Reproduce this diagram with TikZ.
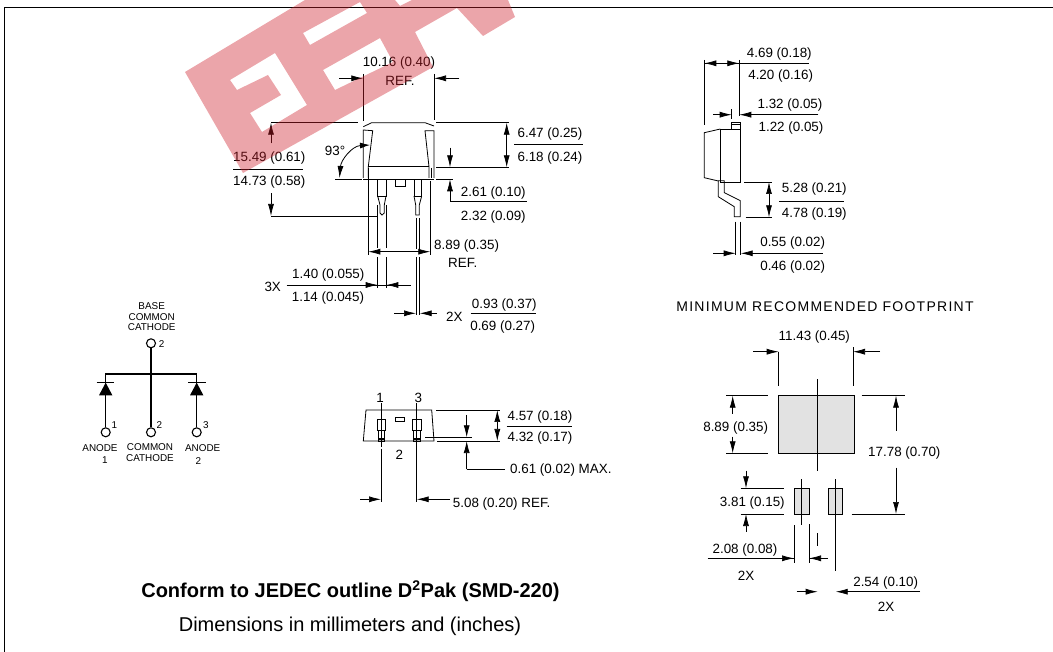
\documentclass[tikz,border=0pt]{standalone}
\usepackage{fontspec}
\setmainfont{Liberation Sans}
\usetikzlibrary{arrows.meta}
\definecolor{logored}{RGB}{205,30,42}
\definecolor{padgray}{RGB}{226,226,226}
\tikzset{
  lab/.style={inner sep=0pt, yshift=-1pt, font=\fontsize{13.4}{15}\selectfont},
  pinlab/.style={inner sep=0pt, font=\fontsize{9.9}{11}\selectfont},
  part/.style={line width=0.8pt},
  ext/.style={line width=0.7pt},
  dim/.style={line width=0.7pt, -{Latex[length=12pt,width=6pt]}},
  dimboth/.style={line width=0.7pt, {Latex[length=12pt,width=6pt]}-{Latex[length=12pt,width=6pt]}},
  term/.style={circle, draw, line width=1.1pt, minimum size=9pt, inner sep=0pt},
}
\begin{document}
\begin{tikzpicture}[x=1pt,y=-1pt]
\useasboundingbox (0,0) rectangle (1053,652);
% frame
\draw[line width=0.9pt] (4.7,652) -- (4.7,7) -- (1053,7);
% front view, body
\draw[part] (363.3,126.7) -- (371.7,122.7) -- (425,122.7) -- (434,126);
\draw[part] (363.3,178) -- (363.3,130) -- (372.7,130.7) -- (368.3,166.7) -- (368.3,178);
\draw[part] (434,178) -- (434,130.7) -- (425,130.7) -- (429,166.7) -- (429,178);
\draw[part] (368.3,166.7) -- (429,166.7);
\draw[part] (363.3,179.3) -- (434,179.3);
\draw[part] (395,179.3) -- (395,186) -- (405,186) -- (405,179.3);
% front view, leads
\draw[part] (377.7,179.3) -- (377.7,196) -- (386,196) -- (386,179.3);
\draw[part] (377.7,196) -- (380,205) -- (380,213) -- (382,215) -- (384.3,213) -- (384.3,205) -- (386,196);
\draw[part] (414,179.3) -- (414,196) -- (421.7,196) -- (421.7,179.3);
\draw[part] (414,196) -- (415.7,205) -- (415.7,215) -- (419.3,215) -- (419.3,205) -- (421.7,196);
% front view, dimensions
\draw[ext] (363.3,74) -- (363.3,120.7);
\draw[ext] (434,74) -- (434,120);
\draw[dim] (339.3,78.3) -- (363.3,78.3);
\draw[dim] (459.3,78.3) -- (434,78.3);
\node[lab] (lab0) at (399,61.7) {10.16 (0.40)};
\node[lab] (lab1) at (400,80) {REF.};
\draw[ext] (271,122.7) -- (358,122.7);
\draw[dim] (271,143.3) -- (271,122.7);
\draw[dim] (271,193.3) -- (271,216);
\draw[ext] (271,216) -- (377.3,216);
\node[lab] (lab2) at (269.3,157.3) {15.49 (0.61)};
\draw[ext] (233.3,169) -- (303.3,169);
\node[lab] (lab3) at (269.3,181) {14.73 (0.58)};
\node[lab] (lab4) at (335,150) {93°};
\draw[line width=0.8pt, {Latex[length=10pt,width=6pt]}-{Latex[length=12pt,width=6pt]}] (370,145) .. controls (352,146) and (341,160) .. (339.5,178);
\draw[ext] (335,179.3) -- (361.7,179.3);
\draw[ext] (436,122.7) -- (509.3,122.7);
\draw[ext] (436,167.3) -- (509.3,167.3);
\draw[dimboth] (506.7,122.7) -- (506.7,167.3);
\node[lab] (lab5) at (550,132.7) {6.47 (0.25)};
\draw[ext] (514,144.7) -- (582.7,144.7);
\node[lab] (lab6) at (550,157.3) {6.18 (0.24)};
\draw[ext] (436,179.3) -- (453,179.3);
\draw[dim] (450,147.7) -- (450,167.3);
\draw[dim] (450,201.7) -- (450,179.3);
\draw[ext] (450,201.7) -- (527.3,201.7);
\node[lab] (lab7) at (493.3,192.3) {2.61 (0.10)};
\node[lab] (lab8) at (493.3,215.7) {2.32 (0.09)};
\draw[ext] (368.3,168) -- (368.3,255);
\draw[line width=1pt] (431,168) -- (431,178);
\draw[ext] (430.3,181) -- (430.3,255);
\draw[ext] (377.7,205) -- (377.7,248);
\draw[ext] (377.7,257) -- (377.7,288);
\draw[ext] (386.3,205) -- (386.3,248);
\draw[ext] (386.3,257) -- (386.3,288);
\draw[ext] (416,218) -- (416,249);
\draw[ext] (416,257) -- (416,315);
\draw[ext] (419.7,218) -- (419.7,249);
\draw[ext] (419.7,257) -- (419.7,315);
\draw[dimboth] (368.3,251.7) -- (430.3,251.7);
\node[lab, anchor=west] (lab9) at (434,245) {8.89 (0.35)};
\node[lab] (lab10) at (462.7,261.7) {REF.};
\draw[ext] (286.7,285) -- (410.7,285);
\draw[dim] (366,285) -- (377.7,285);
\draw[dim] (398,285) -- (386.3,285);
\node[lab] (lab11) at (272.7,286) {3X};
\node[lab] (lab12) at (328.3,274) {1.40 (0.055)};
\node[lab] (lab13) at (328,297.3) {1.14 (0.045)};
\draw[dim] (394,313.3) -- (416,313.3);
\draw[dim] (436.7,313.3) -- (419.7,313.3);
\node[lab] (lab14) at (454.3,316) {2X};
\draw[ext] (470.7,313.3) -- (535.7,313.3);
\node[lab] (lab15) at (504.3,304) {0.93 (0.37)};
\node[lab] (lab16) at (502.7,326) {0.69 (0.27)};
% side view
\draw[part] (731.7,129) -- (731.7,122.7) -- (740,122.7) -- (740,129);
\draw[part] (731.7,124.5) -- (740,124.5);
\draw[part] (720.3,129) rectangle (740,182);
\draw[part] (720.3,129) -- (704.3,132.7) -- (704.3,177.7) -- (718.3,181);
\draw[part] (718.3,180.7) -- (718.3,196.7) -- (734.3,206.7) -- (734.3,216.7) -- (740.3,216.7) -- (740.3,200.7) -- (724.3,192.7) -- (724.3,180.7) -- cycle;
\draw[ext] (704.3,60) -- (704.3,125);
\draw[ext] (739.3,60) -- (739.3,116);
\draw[ext] (704.3,63.3) -- (809.3,63.3);
\draw[dim] (716,63.3) -- (704.3,63.3);
\draw[dim] (728,63.3) -- (739.3,63.3);
\node[lab] (lab17) at (779.3,53.3) {4.69 (0.18)};
\node[lab] (lab18) at (780.7,75) {4.20 (0.16)};
\draw[ext] (731.7,109.3) -- (731.7,119.3);
\draw[dim] (713.3,114.7) -- (731.7,114.7);
\draw[dim] (818.3,114.7) -- (739.3,114.7);
\node[lab] (lab19) at (790,104.3) {1.32 (0.05)};
\node[lab] (lab20) at (791,126.7) {1.22 (0.05)};
\draw[ext] (744,182) -- (771.7,182);
\draw[ext] (745.7,217.3) -- (771.7,217.3);
\draw[dimboth] (769,182) -- (769,217.3);
\node[lab] (lab21) at (814.3,188.3) {5.28 (0.21)};
\draw[ext] (779,201) -- (844,201);
\node[lab] (lab22) at (814.3,213.3) {4.78 (0.19)};
\draw[ext] (735,221.7) -- (735,255);
\draw[ext] (740.3,221.7) -- (740.3,255);
\draw[dim] (713.3,253.3) -- (735.7,253.3);
\draw[dim] (822.7,253.3) -- (740.7,253.3);
\node[lab] (lab23) at (792.7,242.3) {0.55 (0.02)};
\node[lab] (lab24) at (792.7,265.7) {0.46 (0.02)};
% footprint
\node[inner sep=0pt, font=\fontsize{14}{16}\selectfont\addfontfeature{LetterSpace=9}] (lab25) at (825,307) {MINIMUM RECOMMENDED FOOTPRINT};
\draw[part, fill=padgray] (778.7,395.7) rectangle (854.3,453.3);
\draw[part, fill=padgray] (794,488.3) rectangle (809,514.3);
\draw[part, fill=padgray] (828.7,488.3) rectangle (842.7,514.3);
\draw[ext] (817.7,379.3) -- (817.7,470.7);
\draw[ext] (817.7,533.3) -- (817.7,546);
\draw[ext] (801.7,479) -- (801.7,525);
\draw[ext] (835.7,479) -- (835.7,570.7);
\node[lab] (lab26) at (814.3,335.7) {11.43 (0.45)};
\draw[ext] (778.7,351.7) -- (778.7,385.7);
\draw[ext] (853,347.3) -- (853,385.7);
\draw[dim] (753.3,351.7) -- (778.7,351.7);
\draw[dim] (880,351.7) -- (853,351.7);
\draw[ext] (726,395.7) -- (767.7,395.7);
\draw[ext] (726,453.3) -- (767.7,453.3);
\draw[dim] (732.7,414) -- (732.7,395.7);
\draw[dim] (732.7,436.7) -- (732.7,453.3);
\node[lab] (lab27) at (735.7,426.7) {8.89 (0.35)};
\draw[ext] (861.7,395.7) -- (905,395.7);
\draw[ext] (851.7,514) -- (905,514);
\draw[dim] (896,430.7) -- (896,395.7);
\draw[dim] (896,467.7) -- (896,514);
\node[lab] (lab28) at (904.3,452.3) {17.78 (0.70)};
\draw[ext] (740.7,488.3) -- (784,488.3);
\draw[ext] (740.7,514) -- (784,514);
\draw[dim] (746,470.7) -- (746,488.3);
\draw[dim] (746,531.7) -- (746,514);
\node[lab] (lab29) at (752.3,502) {3.81 (0.15)};
\node[lab] (lab30) at (745,549) {2.08 (0.08)};
\draw[ext] (794,525) -- (794,562.7);
\draw[ext] (809,524) -- (809,562.7);
\draw[ext] (707.7,558.3) -- (794,558.3);
\draw[dim] (782,558.3) -- (794,558.3);
\draw[ext] (809,558.3) -- (828.3,558.3);
\draw[dim] (821,558.3) -- (809,558.3);
\node[lab] (lab31) at (746,575) {2X};
\node[lab] (lab32) at (885.7,581.7) {2.54 (0.10)};
\draw[dim] (796.7,591.7) -- (817.7,591.7);
\draw[dim] (920,591.7) -- (835.7,591.7);
\node[lab] (lab33) at (886,606) {2X};
% schematic
\node[term] (tid0) at (151,343.3) {};
\node[term] (tid1) at (105.7,432.3) {};
\node[term] (tid2) at (151,432.3) {};
\node[term] (tid3) at (196.7,432.3) {};
\coordinate (bus1) at (105.7,374);
\coordinate (bus3) at (196.7,374);
\draw[line width=1.1pt] (tid0) -- (tid2);
\draw[line width=1.1pt] (tid1) -- (bus1) -- (bus3) -- (tid3);
\draw[line width=1.1pt] (96.7,382.7) -- (114.3,382.7);
\draw[line width=1.1pt] (188.3,382.7) -- (206,382.7);
\fill (105.7,382.7) -- (99,395.3) -- (112.4,395.3) -- cycle;
\fill (196.7,382.7) -- (190,395.3) -- (203.4,395.3) -- cycle;
\node[pinlab] (pin0) at (151.7,305.7) {BASE};
\node[pinlab] (pin1) at (151.7,316.7) {COMMON};
\node[pinlab] (pin2) at (151.7,327.3) {CATHODE};
\node[pinlab] (pin3) at (161.7,344) {2};
\node[pinlab] (pin4) at (114.3,425) {1};
\node[pinlab] (pin5) at (159.3,425) {2};
\node[pinlab] (pin6) at (206,425) {3};
\node[pinlab] (pin7) at (100,447.7) {ANODE};
\node[pinlab] (pin8) at (105,460) {1};
\node[pinlab] (pin9) at (150,447.3) {COMMON};
\node[pinlab] (pin10) at (150,458.3) {CATHODE};
\node[pinlab] (pin11) at (202.7,448.3) {ANODE};
\node[pinlab] (pin12) at (198.3,460.7) {2};
% bottom view
\draw[part] (366,410) -- (431.7,410) -- (434,441) -- (363.3,441) -- cycle;
\draw[part] (395.7,417.7) rectangle (404.3,421.7);
\draw[part] (377.3,419.3) rectangle (385.3,430);
\draw[part] (378.3,430) rectangle (384.3,441);
\draw[part] (412.7,419.3) rectangle (421.3,430);
\draw[part] (413.7,430) rectangle (420.3,441);
\draw[line width=1.6pt] (378.3,439) -- (384.3,439);
\draw[line width=1.6pt] (413.7,439) -- (420.3,439);
\draw[ext] (381,403.3) -- (381,446.7);
\draw[ext] (381,448.5) -- (381,501.7);
\draw[ext] (416.7,403.3) -- (416.7,501.7);
\node[lab] (lab34) at (380,396.7) {1};
\node[lab] (lab35) at (418.3,396.7) {3};
\node[lab] (lab36) at (399.3,454) {2};
\draw[ext] (436,410) -- (500,410);
\draw[ext] (437.3,441) -- (500,441);
\draw[dimboth] (497.3,410) -- (497.3,441);
\node[lab] (lab37) at (540,416) {4.57 (0.18)};
\draw[ext] (506.7,426.7) -- (571.7,426.7);
\node[lab] (lab38) at (540,437.3) {4.32 (0.17)};
\draw[ext] (425,437.3) -- (471.7,437.3);
\draw[dim] (466.7,415) -- (466.7,437.3);
\draw[dim] (466.7,469.3) -- (466.7,441);
\draw[ext] (466.7,469.3) -- (505,469.3);
\node[lab, anchor=west] (lab39) at (510,469.3) {0.61 (0.02) MAX.};
\draw[dim] (360,499.3) -- (381,499.3);
\draw[dim] (450,499.3) -- (416.7,499.3);
\node[lab, anchor=west] (lab40) at (452.7,502.7) {5.08 (0.20) REF.};
% captions
\node[inner sep=0pt, font=\fontsize{20}{22}\selectfont\bfseries] (cap0) at (350.5,591) {Conform to JEDEC outline D\textsuperscript{2}Pak (SMD-220)};
\node[inner sep=0pt, font=\fontsize{20}{22}\selectfont] (cap1) at (350,626) {Dimensions in millimeters and (inches)};
% logo
\fill[logored, fill opacity=0.4, even odd rule]
  (185,72) -- (305,0) -- (508,0) -- (515,17) -- (483,36) -- (457,8) -- (415,32) -- (433,67) -- (243,173) -- cycle
  (303,33) -- (360,2) -- (367,13) -- (310,45) -- cycle
  (323,70) -- (380,38) -- (393,62) -- (335,90) -- cycle
  (395,0) -- (412,0) -- (400,6) -- cycle
  (230,80) -- (275,53) -- (307,105) -- (262,132) -- (250,113) -- (281,95) -- (268,75) -- (237,90) -- cycle;
\end{tikzpicture}
\end{document}
